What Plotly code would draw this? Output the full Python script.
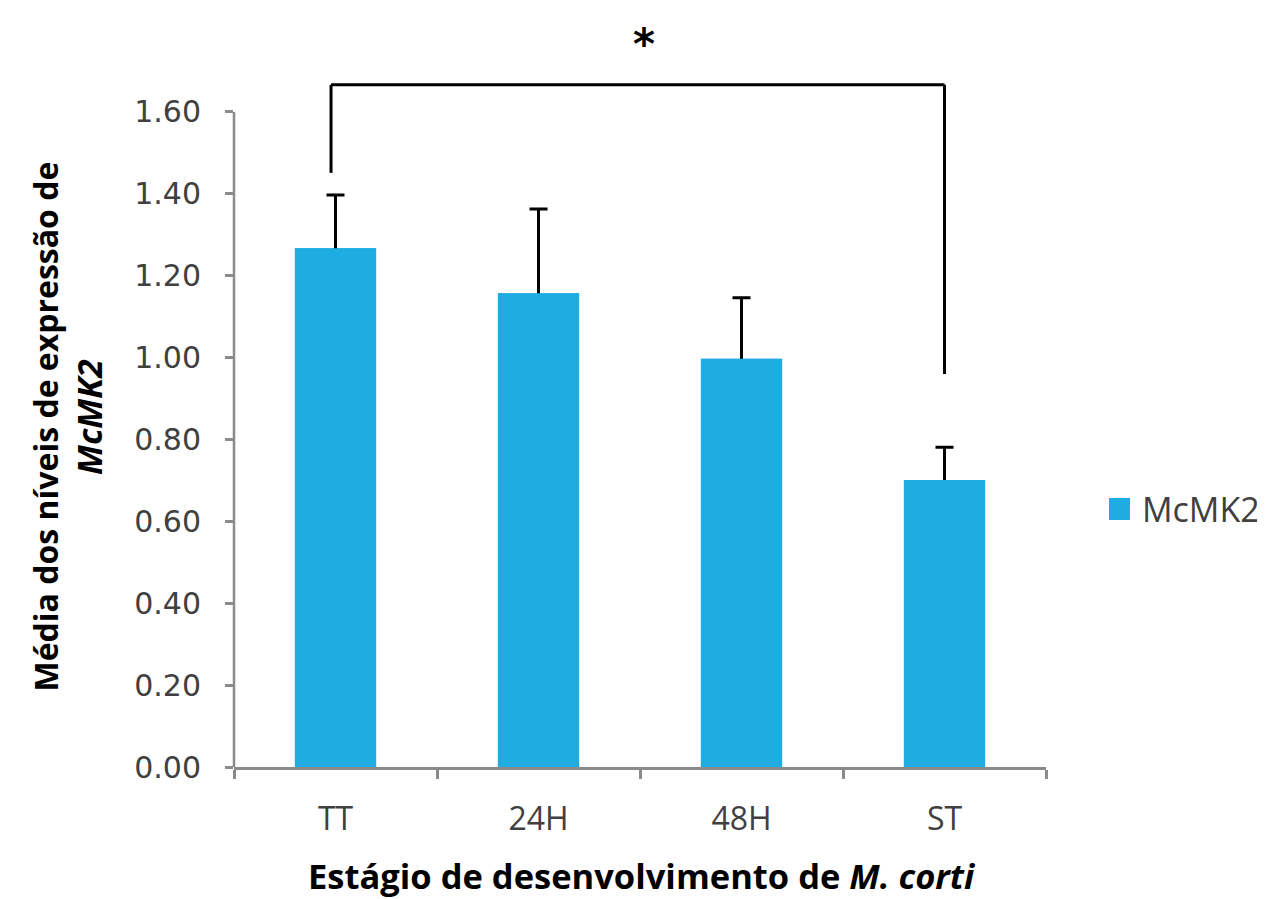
import plotly.graph_objects as go

categories = ["TT", "24H", "48H", "ST"]
means = [1.267, 1.157, 0.997, 0.701]
errors = [0.130, 0.206, 0.149, 0.080]
series_name = "McMK2"
ytick_vals = [0.0, 0.2, 0.4, 0.6, 0.8, 1.0, 1.2, 1.4, 1.6]
ytick_text = ["0.00", "0.20", "0.40", "0.60", "0.80", "1.00", "1.20", "1.40", "1.60"]
bracket_left, bracket_right = 0, 3
bracket_top = 1.666
bracket_left_bottom = 1.451
bracket_right_bottom = 0.960
star_y = 1.775

BAR = "#1FACE2"
AXIS = "#8A8A8A"
TXT = "#404040"

# page geometry (page has an 8px body margin)
PAGE_OFF = 8
PL, PR, PT, PB = 234, 1046, 30, 767
PW, PH = PR - PL, PB - PT


def px(xp):
    return (xp - PL) / PW


def py(yp):
    return (PB - yp) / PH


fig = go.Figure()
# bars with (symmetric) error bars; the lower whisker is hidden by the overlay below
fig.add_trace(go.Bar(
    x=categories, y=means, name=series_name, showlegend=False,
    marker=dict(color=BAR, line=dict(width=0)), opacity=1,
    width=0.4,
    error_y=dict(type="data", array=errors, color="black", thickness=3, width=9),
))
fig.add_trace(go.Bar(
    x=categories, y=means, name=series_name, showlegend=False, hoverinfo="skip",
    marker=dict(color=BAR, line=dict(width=0)), opacity=1,
    width=0.4,
))

# significance bracket
lw = 3
fig.add_shape(type="line", xref="x", yref="y", x0=bracket_left - 0.022, x1=bracket_left - 0.022,
              y0=bracket_left_bottom, y1=bracket_top, line=dict(color="black", width=lw))
fig.add_shape(type="line", xref="x", yref="y", x0=bracket_left - 0.022, x1=bracket_right,
              y0=bracket_top, y1=bracket_top, line=dict(color="black", width=lw))
fig.add_shape(type="line", xref="x", yref="y", x0=bracket_right, x1=bracket_right,
              y0=bracket_right_bottom, y1=bracket_top, line=dict(color="black", width=lw))
fig.add_annotation(x=1.52, y=star_y, xref="x", yref="y",
                   text="<b>*</b>", showarrow=False,
                   font=dict(size=42, color="black", family="DejaVu Sans"), yshift=-4)

# y axis line only up to 1.60
fig.add_shape(type="line", xref="paper", yref="y", x0=0, x1=0, y0=0, y1=1.6,
              line=dict(color=AXIS, width=2.5))

# axis titles
fig.add_annotation(xref="paper", yref="paper", x=px(44.5), y=py(427), xanchor="center", yanchor="middle",
                   text="<b>Média dos níveis de expressão de</b>", textangle=-90,
                   showarrow=False, font=dict(size=32, color="black", family="Open Sans"))
fig.add_annotation(xref="paper", yref="paper", x=px(89), y=py(417), xanchor="center", yanchor="middle",
                   text="<b><i>McMK2</i></b>", textangle=-90,
                   showarrow=False, font=dict(size=34, color="black", family="Open Sans"))
fig.add_annotation(xref="paper", yref="paper", x=px(641), y=py(876), xanchor="center", yanchor="middle",
                   text="<b>Estágio de desenvolvimento de <i>M. corti</i></b>",
                   showarrow=False, font=dict(size=34.5, color="black", family="Open Sans"))

# legend (drawn manually to match the large key square)
fig.add_shape(type="rect", xref="paper", yref="paper", x0=px(1109), x1=px(1130), y0=py(520), y1=py(498),
              line=dict(width=0), fillcolor=BAR)
fig.add_annotation(xref="paper", yref="paper", x=px(1140), y=py(509), xanchor="left", yanchor="middle",
                   text=series_name, showarrow=False,
                   font=dict(size=34, color=TXT, family="Open Sans"))

fig.update_layout(
    width=1265 - PAGE_OFF, height=899 - PAGE_OFF,
    margin=dict(l=PL - PAGE_OFF, r=1265 - PR, t=PT - PAGE_OFF, b=899 - PB),
    paper_bgcolor="white", plot_bgcolor="white",
    showlegend=False,
    barmode="overlay",
    bargap=0.6,
)
fig.update_xaxes(
    showline=True, linecolor=AXIS, linewidth=2.5,
    ticks="outside", tickson="boundaries", ticklen=9, tickwidth=2.5, tickcolor=AXIS,
    tickfont=dict(size=32, color=TXT, family="Open Sans"),
    ticklabelstandoff=22,
    showgrid=False, zeroline=False,
)
fig.update_yaxes(
    range=[0, 1.8], showline=False,
    tickvals=ytick_vals, ticktext=ytick_text,
    ticks="outside", ticklen=8, tickwidth=2.5, tickcolor=AXIS,
    tickfont=dict(size=30, color=TXT, family="DejaVu Sans"),
    ticklabelstandoff=18,
    showgrid=False, zeroline=False,
)

fig.write_html("out.html")
